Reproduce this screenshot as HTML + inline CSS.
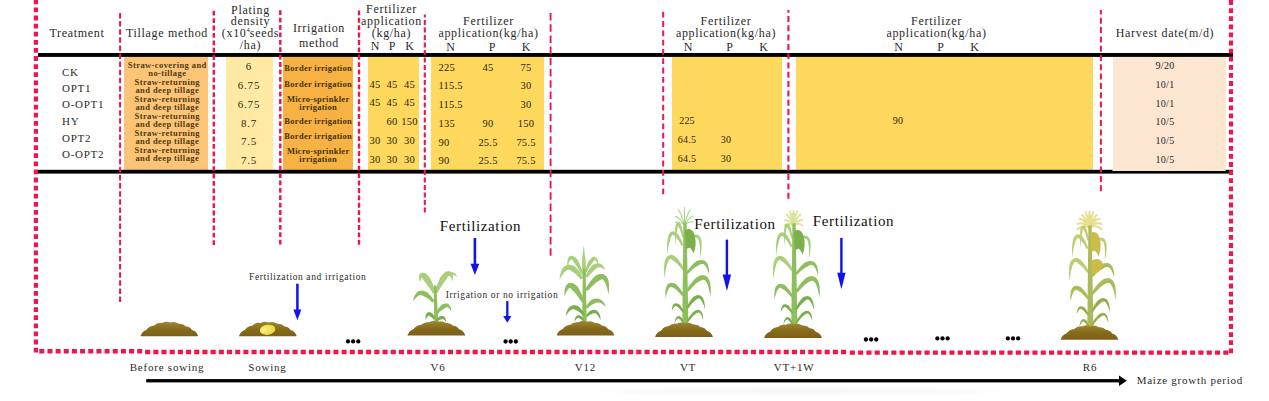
<!DOCTYPE html>
<html><head><meta charset="utf-8">
<style>
html,body{margin:0;padding:0;background:#fff;}
body{width:1269px;height:401px;position:relative;overflow:hidden;font-family:"Liberation Serif",serif;color:#2a2a2a;}
.t{position:absolute;white-space:nowrap;line-height:1;transform:translate(-50%,-50%);}
.l{position:absolute;white-space:nowrap;line-height:1;transform:translate(0,-50%);}
.b{position:absolute;}
svg{position:absolute;left:0;top:0;}
</style></head><body>

<div class="b" style="left:124px;top:57px;width:84px;height:113px;background:#fbc477"></div>
<div class="b" style="left:226.2px;top:57px;width:46.80000000000001px;height:113px;background:#ffe9a3"></div>
<div class="b" style="left:283px;top:57px;width:70px;height:113px;background:#f6b243"></div>
<div class="b" style="left:368px;top:57px;width:50.5px;height:113px;background:#ffd85e"></div>
<div class="b" style="left:431px;top:57px;width:112.5px;height:113px;background:#ffd85e"></div>
<div class="b" style="left:671.5px;top:57px;width:110.5px;height:113px;background:#ffd85e"></div>
<div class="b" style="left:796px;top:57px;width:297.20000000000005px;height:113px;background:#ffd85e"></div>
<div class="b" style="left:1112.5px;top:57px;width:113.09999999999991px;height:114px;background:#fde6d2"></div>
<div class="t" style="left:77px;top:33px;font-size:12px;letter-spacing:0.68px;">Treatment</div>
<div class="t" style="left:167px;top:33px;font-size:12px;letter-spacing:0.68px;">Tillage method</div>
<div class="t" style="left:250.5px;top:9.5px;font-size:12px;letter-spacing:0.68px;">Plating</div>
<div class="t" style="left:250.5px;top:21.2px;font-size:12px;letter-spacing:0.68px;">density</div>
<div class="t" style="left:250.5px;top:32.9px;font-size:12px;letter-spacing:0.68px;">(x10<sup style='font-size:6.5px;line-height:0;vertical-align:4.6px;letter-spacing:0'>4</sup>seeds</div>
<div class="t" style="left:250.5px;top:44.599999999999994px;font-size:12px;letter-spacing:0.68px;">/ha)</div>
<div class="t" style="left:319px;top:27.9px;font-size:12px;letter-spacing:0.68px;">Irrigation</div>
<div class="t" style="left:319px;top:42.5px;font-size:12px;letter-spacing:0.68px;">method</div>
<div class="t" style="left:391.5px;top:9.0px;font-size:12px;letter-spacing:0.68px;">Fertilizer</div>
<div class="t" style="left:391.5px;top:20.9px;font-size:12px;letter-spacing:0.68px;">application</div>
<div class="t" style="left:391.5px;top:32.8px;font-size:12px;letter-spacing:0.68px;">(kg/ha)</div>
<div class="t" style="left:375px;top:46.2px;font-size:12px;letter-spacing:0px;">N</div>
<div class="t" style="left:392px;top:46.2px;font-size:12px;letter-spacing:0px;">P</div>
<div class="t" style="left:409.5px;top:46.2px;font-size:12px;letter-spacing:0px;">K</div>
<div class="t" style="left:488.5px;top:20.8px;font-size:12px;letter-spacing:0.68px;">Fertilizer</div>
<div class="t" style="left:488.5px;top:33.3px;font-size:12px;letter-spacing:0.68px;">application(kg/ha)</div>
<div class="t" style="left:450.5px;top:46.5px;font-size:12px;letter-spacing:0px;">N</div>
<div class="t" style="left:492px;top:46.5px;font-size:12px;letter-spacing:0px;">P</div>
<div class="t" style="left:526px;top:46.5px;font-size:12px;letter-spacing:0px;">K</div>
<div class="t" style="left:726px;top:20.8px;font-size:12px;letter-spacing:0.68px;">Fertilizer</div>
<div class="t" style="left:726px;top:33.3px;font-size:12px;letter-spacing:0.68px;">application(kg/ha)</div>
<div class="t" style="left:688px;top:46.5px;font-size:12px;letter-spacing:0px;">N</div>
<div class="t" style="left:729.5px;top:46.5px;font-size:12px;letter-spacing:0px;">P</div>
<div class="t" style="left:763.5px;top:46.5px;font-size:12px;letter-spacing:0px;">K</div>
<div class="t" style="left:936.5px;top:20.8px;font-size:12px;letter-spacing:0.68px;">Fertilizer</div>
<div class="t" style="left:936.5px;top:33.3px;font-size:12px;letter-spacing:0.68px;">application(kg/ha)</div>
<div class="t" style="left:898.5px;top:46.5px;font-size:12px;letter-spacing:0px;">N</div>
<div class="t" style="left:940.5px;top:46.5px;font-size:12px;letter-spacing:0px;">P</div>
<div class="t" style="left:974.5px;top:46.5px;font-size:12px;letter-spacing:0px;">K</div>
<div class="t" style="left:1165px;top:33.3px;font-size:12px;letter-spacing:0.68px;">Harvest date(m/d)</div>
<div class="l" style="left:62px;top:72px;font-size:11px;letter-spacing:0.72px;">CK</div>
<div class="l" style="left:62px;top:87.7px;font-size:11px;letter-spacing:0.72px;">OPT1</div>
<div class="l" style="left:62px;top:104.1px;font-size:11px;letter-spacing:0.72px;">O-OPT1</div>
<div class="l" style="left:62px;top:120.9px;font-size:11px;letter-spacing:0.72px;">HY</div>
<div class="l" style="left:62px;top:137.8px;font-size:11px;letter-spacing:0.72px;">OPT2</div>
<div class="l" style="left:62px;top:153.7px;font-size:11px;letter-spacing:0.72px;">O-OPT2</div>
<div class="t" style="left:167.3px;top:64.5px;font-size:8.5px;letter-spacing:0.41px;font-weight:bold;color:#523a14;">Straw-covering and</div>
<div class="t" style="left:167.3px;top:73.0px;font-size:8.5px;letter-spacing:0.41px;font-weight:bold;color:#523a14;">no-tillage</div>
<div class="t" style="left:167.3px;top:81.5px;font-size:8.5px;letter-spacing:0.41px;font-weight:bold;color:#523a14;">Straw-returning</div>
<div class="t" style="left:167.3px;top:90.0px;font-size:8.5px;letter-spacing:0.41px;font-weight:bold;color:#523a14;">and deep tillage</div>
<div class="t" style="left:167.3px;top:98.5px;font-size:8.5px;letter-spacing:0.41px;font-weight:bold;color:#523a14;">Straw-returning</div>
<div class="t" style="left:167.3px;top:107.0px;font-size:8.5px;letter-spacing:0.41px;font-weight:bold;color:#523a14;">and deep tillage</div>
<div class="t" style="left:167.3px;top:115.5px;font-size:8.5px;letter-spacing:0.41px;font-weight:bold;color:#523a14;">Straw-returning</div>
<div class="t" style="left:167.3px;top:124.0px;font-size:8.5px;letter-spacing:0.41px;font-weight:bold;color:#523a14;">and deep tillage</div>
<div class="t" style="left:167.3px;top:132.5px;font-size:8.5px;letter-spacing:0.41px;font-weight:bold;color:#523a14;">Straw-returning</div>
<div class="t" style="left:167.3px;top:141.0px;font-size:8.5px;letter-spacing:0.41px;font-weight:bold;color:#523a14;">and deep tillage</div>
<div class="t" style="left:167.3px;top:149.5px;font-size:8.5px;letter-spacing:0.41px;font-weight:bold;color:#523a14;">Straw-returning</div>
<div class="t" style="left:167.3px;top:158.0px;font-size:8.5px;letter-spacing:0.41px;font-weight:bold;color:#523a14;">and deep tillage</div>
<div class="t" style="left:249px;top:65.6px;font-size:11px;letter-spacing:0.8px;color:#2e2a1a;">6</div>
<div class="t" style="left:249px;top:85.2px;font-size:11px;letter-spacing:0.8px;color:#2e2a1a;">6.75</div>
<div class="t" style="left:249px;top:104.4px;font-size:11px;letter-spacing:0.8px;color:#2e2a1a;">6.75</div>
<div class="t" style="left:249px;top:122.5px;font-size:11px;letter-spacing:0.8px;color:#2e2a1a;">8.7</div>
<div class="t" style="left:249px;top:141.2px;font-size:11px;letter-spacing:0.8px;color:#2e2a1a;">7.5</div>
<div class="t" style="left:249px;top:160.4px;font-size:11px;letter-spacing:0.8px;color:#2e2a1a;">7.5</div>
<div class="t" style="left:318.2px;top:68px;font-size:8.5px;letter-spacing:0.28px;font-weight:bold;color:#48320c;">Border irrigation</div>
<div class="t" style="left:318.2px;top:83.7px;font-size:8.5px;letter-spacing:0.28px;font-weight:bold;color:#48320c;">Border irrigation</div>
<div class="t" style="left:318.2px;top:98.8px;font-size:8.5px;letter-spacing:0.28px;font-weight:bold;color:#48320c;">Micro-sprinkler</div>
<div class="t" style="left:318.2px;top:107px;font-size:8.5px;letter-spacing:0.28px;font-weight:bold;color:#48320c;">irrigation</div>
<div class="t" style="left:318.2px;top:121px;font-size:8.5px;letter-spacing:0.28px;font-weight:bold;color:#48320c;">Border irrigation</div>
<div class="t" style="left:318.2px;top:136px;font-size:8.5px;letter-spacing:0.28px;font-weight:bold;color:#48320c;">Border irrigation</div>
<div class="t" style="left:318.2px;top:151.3px;font-size:8.5px;letter-spacing:0.28px;font-weight:bold;color:#48320c;">Micro-sprinkler</div>
<div class="t" style="left:318.2px;top:159.4px;font-size:8.5px;letter-spacing:0.28px;font-weight:bold;color:#48320c;">irrigation</div>
<div class="t" style="left:375px;top:84.7px;font-size:10.5px;letter-spacing:0.3px;color:#2a2412;">45</div>
<div class="t" style="left:392px;top:84.7px;font-size:10.5px;letter-spacing:0.3px;color:#2a2412;">45</div>
<div class="t" style="left:409.5px;top:84.7px;font-size:10.5px;letter-spacing:0.3px;color:#2a2412;">45</div>
<div class="t" style="left:375px;top:103.4px;font-size:10.5px;letter-spacing:0.3px;color:#2a2412;">45</div>
<div class="t" style="left:392px;top:103.4px;font-size:10.5px;letter-spacing:0.3px;color:#2a2412;">45</div>
<div class="t" style="left:409.5px;top:103.4px;font-size:10.5px;letter-spacing:0.3px;color:#2a2412;">45</div>
<div class="t" style="left:392px;top:122.0px;font-size:10.5px;letter-spacing:0.3px;color:#2a2412;">60</div>
<div class="t" style="left:409.5px;top:122.0px;font-size:10.5px;letter-spacing:0.3px;color:#2a2412;">150</div>
<div class="t" style="left:375px;top:141.2px;font-size:10.5px;letter-spacing:0.3px;color:#2a2412;">30</div>
<div class="t" style="left:392px;top:141.2px;font-size:10.5px;letter-spacing:0.3px;color:#2a2412;">30</div>
<div class="t" style="left:409.5px;top:141.2px;font-size:10.5px;letter-spacing:0.3px;color:#2a2412;">30</div>
<div class="t" style="left:375px;top:159.9px;font-size:10.5px;letter-spacing:0.3px;color:#2a2412;">30</div>
<div class="t" style="left:392px;top:159.9px;font-size:10.5px;letter-spacing:0.3px;color:#2a2412;">30</div>
<div class="t" style="left:409.5px;top:159.9px;font-size:10.5px;letter-spacing:0.3px;color:#2a2412;">30</div>
<div class="l" style="left:438.5px;top:67.5px;font-size:10.5px;letter-spacing:0.2px;color:#2a2412;">225</div>
<div class="t" style="left:488px;top:67.5px;font-size:10.5px;letter-spacing:0.2px;color:#2a2412;">45</div>
<div class="t" style="left:526px;top:67.5px;font-size:10.5px;letter-spacing:0.2px;color:#2a2412;">75</div>
<div class="l" style="left:438.5px;top:86.2px;font-size:10.5px;letter-spacing:0.2px;color:#2a2412;">115.5</div>
<div class="t" style="left:526px;top:86.2px;font-size:10.5px;letter-spacing:0.2px;color:#2a2412;">30</div>
<div class="l" style="left:438.5px;top:104.9px;font-size:10.5px;letter-spacing:0.2px;color:#2a2412;">115.5</div>
<div class="t" style="left:526px;top:104.9px;font-size:10.5px;letter-spacing:0.2px;color:#2a2412;">30</div>
<div class="l" style="left:438.5px;top:123.5px;font-size:10.5px;letter-spacing:0.2px;color:#2a2412;">135</div>
<div class="t" style="left:488px;top:123.5px;font-size:10.5px;letter-spacing:0.2px;color:#2a2412;">90</div>
<div class="t" style="left:526px;top:123.5px;font-size:10.5px;letter-spacing:0.2px;color:#2a2412;">150</div>
<div class="l" style="left:438.5px;top:142.7px;font-size:10.5px;letter-spacing:0.2px;color:#2a2412;">90</div>
<div class="t" style="left:488px;top:142.7px;font-size:10.5px;letter-spacing:0.2px;color:#2a2412;">25.5</div>
<div class="t" style="left:526px;top:142.7px;font-size:10.5px;letter-spacing:0.2px;color:#2a2412;">75.5</div>
<div class="l" style="left:438.5px;top:161.4px;font-size:10.5px;letter-spacing:0.2px;color:#2a2412;">90</div>
<div class="t" style="left:488px;top:161.4px;font-size:10.5px;letter-spacing:0.2px;color:#2a2412;">25.5</div>
<div class="t" style="left:526px;top:161.4px;font-size:10.5px;letter-spacing:0.2px;color:#2a2412;">75.5</div>
<div class="t" style="left:687px;top:120.8px;font-size:10px;letter-spacing:0.2px;color:#2a2412;">225</div>
<div class="t" style="left:687px;top:140px;font-size:10px;letter-spacing:0.2px;color:#2a2412;">64.5</div>
<div class="t" style="left:726px;top:140px;font-size:10px;letter-spacing:0.2px;color:#2a2412;">30</div>
<div class="t" style="left:687px;top:158.6px;font-size:10px;letter-spacing:0.2px;color:#2a2412;">64.5</div>
<div class="t" style="left:726px;top:158.6px;font-size:10px;letter-spacing:0.2px;color:#2a2412;">30</div>
<div class="t" style="left:898px;top:120.8px;font-size:10px;letter-spacing:0.2px;color:#2a2412;">90</div>
<div class="t" style="left:1165px;top:65.8px;font-size:10px;letter-spacing:0.3px;color:#262626;">9/20</div>
<div class="t" style="left:1165px;top:84.8px;font-size:10px;letter-spacing:0.3px;color:#262626;">10/1</div>
<div class="t" style="left:1165px;top:103.5px;font-size:10px;letter-spacing:0.3px;color:#262626;">10/1</div>
<div class="t" style="left:1165px;top:122.2px;font-size:10px;letter-spacing:0.3px;color:#262626;">10/5</div>
<div class="t" style="left:1165px;top:140.8px;font-size:10px;letter-spacing:0.3px;color:#262626;">10/5</div>
<div class="t" style="left:1165px;top:159.8px;font-size:10px;letter-spacing:0.3px;color:#262626;">10/5</div>
<div class="t" style="left:167px;top:366.8px;font-size:11px;letter-spacing:0.78px;">Before sowing</div>
<div class="t" style="left:267.5px;top:366.8px;font-size:11px;letter-spacing:0.78px;">Sowing</div>
<div class="t" style="left:438px;top:366.8px;font-size:11px;letter-spacing:0.78px;">V6</div>
<div class="t" style="left:585.5px;top:366.8px;font-size:11px;letter-spacing:0.78px;">V12</div>
<div class="t" style="left:688px;top:366.8px;font-size:11px;letter-spacing:0.78px;">VT</div>
<div class="t" style="left:794px;top:366.8px;font-size:11px;letter-spacing:0.78px;">VT+1W</div>
<div class="t" style="left:1090px;top:366.8px;font-size:11px;letter-spacing:0.78px;">R6</div>
<div class="l" style="left:1136.7px;top:379.9px;font-size:11px;letter-spacing:0.74px;">Maize growth period</div>
<div class="t" style="left:480.5px;top:225.6px;font-size:15px;letter-spacing:0.62px;color:#111;">Fertilization</div>
<div class="t" style="left:735px;top:223.6px;font-size:15px;letter-spacing:0.62px;color:#111;">Fertilization</div>
<div class="t" style="left:853.5px;top:221px;font-size:15px;letter-spacing:0.62px;color:#111;">Fertilization</div>
<div class="t" style="left:307.7px;top:278.1px;font-size:9.5px;letter-spacing:0.61px;">Fertilization and irrigation</div>
<div class="t" style="left:502px;top:295.8px;font-size:9.5px;letter-spacing:0.62px;">Irrigation or no irrigation</div>
<svg width="1269" height="401" viewBox="0 0 1269 401">
<rect x="38" y="53" width="1195" height="3.9" fill="#000"/>
<rect x="38" y="169.8" width="1195" height="3.8" fill="#000"/>
<rect x="1112.5" y="169" width="113.1" height="2" fill="#fde6d2"/>
<line x1="120.1" y1="302" x2="120.1" y2="12.6" stroke="#eb174f" stroke-width="2.0" stroke-dasharray="5.5 2.6"/>
<line x1="213.8" y1="245" x2="213.8" y2="10.4" stroke="#eb174f" stroke-width="2.45" stroke-dasharray="4.8 2.6"/>
<line x1="280.3" y1="244.5" x2="280.3" y2="10" stroke="#eb174f" stroke-width="2.45" stroke-dasharray="4.8 2.6"/>
<line x1="359" y1="244.7" x2="359" y2="9.6" stroke="#eb174f" stroke-width="2.4" stroke-dasharray="4.9 2.5"/>
<line x1="424.8" y1="212.5" x2="424.8" y2="14.4" stroke="#eb174f" stroke-width="2.1" stroke-dasharray="5 2.5"/>
<line x1="550.6" y1="255.7" x2="550.6" y2="11.2" stroke="#eb174f" stroke-width="1.9" stroke-dasharray="7.5 3.7"/>
<line x1="663.2" y1="194.3" x2="663.2" y2="10.5" stroke="#eb174f" stroke-width="2.0" stroke-dasharray="5.8 3.5"/>
<line x1="788.4" y1="198.7" x2="788.4" y2="10" stroke="#eb174f" stroke-width="2.1" stroke-dasharray="6 3.3"/>
<line x1="1100.9" y1="191.2" x2="1100.9" y2="10" stroke="#eb174f" stroke-width="2.0" stroke-dasharray="6 3.3"/>
<path d="M35.9 352.5 V-2" fill="none" stroke="#eb174f" stroke-width="4.2" stroke-dasharray="4.8 3.3"/>
<path d="M1231 353.2 V-2" fill="none" stroke="#eb174f" stroke-width="4.2" stroke-dasharray="4.8 3.3"/>
<path d="M39.3 351.3 H144.4" fill="none" stroke="#eb174f" stroke-width="4.5" stroke-dasharray="5 3.16"/>
<path d="M145.1 352 H849" fill="none" stroke="#eb174f" stroke-width="4.3" stroke-dasharray="5.1 3.087"/>
<path d="M849.8 352.7 H1230.5" fill="none" stroke="#eb174f" stroke-width="4.3" stroke-dasharray="5.1 3.2"/>
<rect x="146.2" y="379.1" width="975" height="3.3" fill="#000"/>
<path d="M1119 375.6 L1126.8 380.85 L1119 386.1 Z" fill="#000"/>
<rect x="473.59999999999997" y="238" width="2.6" height="26.69999999999999" fill="#1212ee"/>
<path d="M470.54999999999995 263.7 L479.25 263.7 L474.9 274.9 Z" fill="#1212ee"/>
<rect x="296.15" y="283.7" width="2.5" height="26.899999999999977" fill="#1212ee"/>
<path d="M293.4 309.59999999999997 L301.4 309.59999999999997 L297.4 320.2 Z" fill="#1212ee"/>
<rect x="506.15000000000003" y="301.1" width="2.3" height="15.899999999999977" fill="#1212ee"/>
<path d="M503.2 316.0 L511.40000000000003 316.0 L507.3 322.8 Z" fill="#1212ee"/>
<rect x="725.6999999999999" y="239.6" width="2.4" height="35.900000000000006" fill="#1212ee"/>
<path d="M722.6999999999999 274.5 L731.1 274.5 L726.9 291.1 Z" fill="#1212ee"/>
<rect x="840.1999999999999" y="237.9" width="2.4" height="35.900000000000006" fill="#1212ee"/>
<path d="M837.1999999999999 272.8 L845.6 272.8 L841.4 289.3 Z" fill="#1212ee"/>
<defs><filter id="bl" x="-10%" y="-200%" width="120%" height="500%"><feGaussianBlur stdDeviation="2"/></filter></defs><ellipse cx="800" cy="391" rx="200" ry="2.2" fill="#000" opacity="0.045" filter="url(#bl)"/>
<circle cx="347.95000000000005" cy="341.4" r="2.15" fill="#000"/>
<circle cx="353.1" cy="341.4" r="2.15" fill="#000"/>
<circle cx="358.25" cy="341.4" r="2.15" fill="#000"/>
<circle cx="505.55" cy="341.5" r="2.15" fill="#000"/>
<circle cx="510.7" cy="341.5" r="2.15" fill="#000"/>
<circle cx="515.85" cy="341.5" r="2.15" fill="#000"/>
<circle cx="865.95" cy="339.5" r="2.15" fill="#000"/>
<circle cx="871.1" cy="339.5" r="2.15" fill="#000"/>
<circle cx="876.25" cy="339.5" r="2.15" fill="#000"/>
<circle cx="937.35" cy="338.4" r="2.15" fill="#000"/>
<circle cx="942.5" cy="338.4" r="2.15" fill="#000"/>
<circle cx="947.65" cy="338.4" r="2.15" fill="#000"/>
<circle cx="1007.85" cy="338.4" r="2.15" fill="#000"/>
<circle cx="1013" cy="338.4" r="2.15" fill="#000"/>
<circle cx="1018.15" cy="338.4" r="2.15" fill="#000"/>
<defs><linearGradient id="sg" x1="0" y1="0" x2="0" y2="1"><stop offset="0" stop-color="#9f8631"/><stop offset="0.5" stop-color="#866b1d"/><stop offset="1" stop-color="#7b6016"/></linearGradient><radialGradient id="seed" cx="0.3" cy="0.45" r="0.8"><stop offset="0" stop-color="#fbf08a"/><stop offset="1" stop-color="#ecd21f"/></radialGradient></defs>
<path d="M435.9 292.2L433.7 286.5L431.8 281.8L429.9 277.9L427.8 275.2L425.6 273.3L422.8 272.4L419.9 273.7L419.0 276.1L419.1 278.8L419.9 282.1L419.9 282.1L421.2 279.0L422.3 277.3L423.0 277.1L422.1 277.8L422.0 278.1L422.9 279.3L424.5 281.6L426.9 284.6L429.7 288.6L432.9 293.6Z" fill="#a9cf7c"/>
<path d="M437.1 293.5L440.3 287.9L443.2 283.5L445.8 280.1L447.5 277.6L448.7 276.3L448.9 275.8L448.7 275.5L449.7 275.9L451.1 277.9L452.6 281.2L452.6 281.2L452.9 277.5L452.6 274.5L451.3 272.1L448.5 270.9L445.5 271.7L443.1 273.8L440.7 276.7L438.7 280.9L436.6 286.1L434.2 292.3Z" fill="#a9cf7c"/>
<path d="M447.4 275.5L448.8 275.1L450.0 274.9L451.1 274.8L452.0 274.7L452.8 274.8L453.5 274.9L454.3 275.1L455.1 275.5L455.9 276.2L456.9 277.0L456.9 277.0L456.6 275.7L456.1 274.6L455.4 273.6L454.4 272.9L453.3 272.4L452.1 272.2L450.7 272.2L449.4 272.7L448.1 273.4L446.8 274.3Z" fill="#a9cf7c"/>
<path d="M434.5 300.8L432.0 297.3L429.5 294.4L426.9 292.1L424.1 290.9L421.2 290.6L418.5 291.3L416.4 292.9L414.8 295.2L413.7 298.1L413.2 301.6L413.2 301.6L415.1 298.8L417.0 296.8L418.6 295.6L420.0 295.2L421.2 295.2L422.6 295.5L424.4 296.4L426.7 297.7L429.5 299.7L432.5 302.4Z" fill="#8fbe5e"/>
<path d="M434.2 322.6 L438.4 322.6 L436.3 285.5 L433.7 285.5 Z" fill="#8fbe5e"/>
<path d="M437.0 315.0L439.5 312.3L441.8 310.3L443.7 309.0L445.1 307.9L446.0 307.4L446.7 307.2L447.4 307.2L448.4 307.8L449.7 309.1L451.1 311.1L451.1 311.1L451.0 308.5L450.4 306.4L449.2 304.7L447.4 303.6L445.2 303.4L443.0 304.1L440.9 305.5L439.0 307.7L437.1 310.4L435.1 313.7Z" fill="#8fbe5e"/>
<path d="M435.4 318.2L434.2 316.1L433.0 314.3L431.8 312.9L430.2 312.2L428.4 312.1L426.9 312.9L425.9 314.3L425.5 315.9L425.4 317.8L425.7 320.1L425.7 320.1L426.6 318.1L427.5 316.6L428.3 315.8L428.8 315.6L428.9 315.7L429.0 315.8L429.6 316.2L430.7 316.7L432.1 317.8L433.8 319.4Z" fill="#7aad4c"/>
<path d="M437.1 321.5L438.7 320.5L440.0 319.8L441.1 319.5L441.8 319.2L442.2 319.0L442.7 319.0L443.2 319.2L444.0 319.8L444.9 320.8L445.8 322.2L445.8 322.2L445.9 320.4L445.6 318.9L445.0 317.6L444.0 316.6L442.7 316.0L441.1 315.9L439.7 316.3L438.4 317.4L437.1 318.7L435.9 320.3Z" fill="#7aad4c"/>
<path d="M582.1 275.3 L582.1 259.6 L582.9 251.8 L583.7 245.8 L584.5 251.8 L585.5 259.6 L586.3 275.3 Z" fill="#a9cf7c"/>
<path d="M583.2 273.0L581.2 267.7L579.4 263.3L577.6 259.8L575.6 257.4L573.3 255.9L570.6 255.8L568.6 257.3L567.7 259.7L567.2 262.8L567.2 266.7L567.2 266.7L568.6 263.1L569.9 260.6L571.0 259.4L571.5 259.4L571.6 259.6L572.5 260.5L574.0 262.4L576.0 265.2L578.4 269.0L581.1 273.9Z" fill="#a9cf7c"/>
<path d="M583.4 277.9L580.6 273.2L577.9 269.4L575.1 266.5L571.8 264.9L568.4 264.6L565.2 265.7L562.8 268.0L561.2 271.2L560.0 275.2L559.4 280.0L559.4 280.0L561.7 275.8L563.9 272.7L565.8 270.8L567.5 269.9L568.7 269.8L570.0 270.2L571.8 271.3L574.4 272.9L577.5 275.7L580.9 279.5Z" fill="#a9cf7c"/>
<path d="M586.5 272.3L588.6 268.4L590.5 265.2L592.2 262.9L593.5 261.2L594.3 260.4L594.6 260.1L594.8 259.9L595.7 260.4L596.8 261.9L598.1 264.3L598.1 264.3L598.0 261.5L597.5 259.3L596.4 257.7L594.5 256.8L592.4 257.3L590.6 258.7L589.0 260.7L587.6 263.6L586.1 267.2L584.6 271.5Z" fill="#a9cf7c"/>
<path d="M587.4 277.8L590.0 274.5L592.4 271.9L594.6 270.1L596.2 268.6L597.5 267.8L598.6 267.3L599.7 267.2L601.1 267.5L602.8 268.6L604.9 270.3L604.9 270.3L604.1 267.6L602.8 265.5L600.9 263.9L598.5 263.2L596.0 263.5L593.5 264.6L591.1 266.5L589.1 269.2L587.2 272.6L585.2 276.5Z" fill="#a9cf7c"/>
<path d="M587.6 291.1L592.0 286.3L595.8 282.8L599.0 280.7L601.0 279.6L602.0 279.3L602.8 279.5L604.2 280.9L605.8 284.0L607.2 288.6L608.5 294.6L608.5 294.6L609.1 288.4L608.9 283.3L608.1 279.1L606.2 275.9L603.1 273.9L599.2 274.0L595.5 275.7L592.2 279.1L588.8 283.6L585.0 289.3Z" fill="#8fbe5e"/>
<path d="M584.6 301.3L582.2 295.5L579.9 290.7L577.6 286.8L574.9 284.3L571.9 282.8L568.6 283.1L566.2 285.2L565.0 288.1L564.4 291.8L564.3 296.5L564.3 296.5L566.2 292.3L567.9 289.5L569.4 288.0L570.1 287.9L570.4 288.1L571.3 288.9L573.0 290.7L575.6 293.5L578.5 297.5L581.8 302.6Z" fill="#8fbe5e"/>
<path d="M582.1 324.2 L586.8 324.2 L585.5 268.8 L582.9 268.8 Z" fill="#8fbe5e"/>
<path d="M587.2 308.7L589.6 306.4L591.9 304.7L593.9 303.7L595.5 302.8L596.9 302.4L598.3 302.4L599.8 302.7L601.6 303.5L603.6 304.9L605.9 306.9L605.9 306.9L604.7 304.0L603.2 301.7L601.3 299.9L599.1 298.8L596.7 298.4L594.1 298.7L591.6 299.8L589.4 301.8L587.4 304.3L585.4 307.3Z" fill="#8fbe5e"/>
<path d="M584.1 313.6L582.1 310.5L580.2 308.1L578.0 306.1L575.6 305.2L573.0 305.2L570.7 306.0L568.8 307.7L567.4 309.9L566.3 312.7L565.7 316.1L565.7 316.1L567.6 313.3L569.4 311.3L571.0 310.0L572.3 309.3L573.4 309.2L574.5 309.4L575.8 310.1L577.7 311.0L579.9 312.6L582.2 314.9Z" fill="#7aad4c"/>
<path d="M587.0 317.0L589.2 315.3L591.1 314.2L592.7 313.6L593.8 313.3L594.8 313.3L595.7 313.5L596.8 314.3L598.0 315.7L599.3 317.7L600.7 320.3L600.7 320.3L600.4 317.3L599.8 314.8L598.8 312.7L597.4 311.1L595.6 310.0L593.5 309.7L591.4 310.2L589.4 311.5L587.5 313.4L585.6 315.7Z" fill="#7aad4c"/>
<path d="M583.8 319.8L582.7 318.1L581.7 316.8L580.5 315.7L579.1 315.3L577.7 315.3L576.5 315.9L575.6 317.0L575.0 318.3L574.6 319.9L574.5 321.8L574.5 321.8L575.5 320.2L576.4 319.0L577.1 318.3L577.8 317.9L578.2 317.9L578.5 318.0L579.1 318.3L580.1 318.7L581.2 319.5L582.6 320.7Z" fill="#7aad4c"/>
<path d="M684.5 224.6 Q684.5 211.9 684.5 207.6" stroke="#b4d596" stroke-width="1.2" fill="none" stroke-linecap="round"/>
<path d="M684.5 224.6 Q681.2 213.5 678.5 209.8" stroke="#b4d596" stroke-width="1.2" fill="none" stroke-linecap="round"/>
<path d="M684.5 224.6 Q687.4 213.7 689.8 210.1" stroke="#b4d596" stroke-width="1.2" fill="none" stroke-linecap="round"/>
<path d="M684.5 224.6 Q679.4 217.7 675.3 216.4" stroke="#b4d596" stroke-width="1.2" fill="none" stroke-linecap="round"/>
<path d="M684.5 224.6 Q689.2 217.4 693.2 216.0" stroke="#b4d596" stroke-width="1.2" fill="none" stroke-linecap="round"/>
<path d="M684.5 224.6 Q679.5 221.4 675.4 222.4" stroke="#b4d596" stroke-width="1.2" fill="none" stroke-linecap="round"/>
<path d="M684.5 224.6 Q689.3 221.1 693.3 221.9" stroke="#b4d596" stroke-width="1.2" fill="none" stroke-linecap="round"/>
<path d="M684.1 237.5L682.9 231.8L681.9 227.4L680.8 224.4L679.3 222.6L676.6 222.9L675.6 225.0L675.2 228.2L675.0 232.6L675.1 238.4L675.4 245.6L675.4 245.6L676.0 238.4L676.7 232.7L677.4 228.5L678.1 225.8L678.6 224.9L677.6 225.1L678.1 225.9L679.4 228.3L680.9 232.3L682.6 237.8Z" fill="#a9cf7c"/>
<path d="M683.5 245.2L681.1 239.8L678.9 235.6L676.7 232.7L673.9 231.2L670.9 231.8L669.0 234.1L667.9 237.5L667.2 242.1L666.9 247.9L667.1 255.0L667.1 255.0L668.1 248.0L669.3 242.4L670.5 238.3L671.7 235.7L672.7 234.8L673.0 234.9L674.1 235.6L676.2 237.6L678.8 241.1L681.7 246.0Z" fill="#a9cf7c"/>
<path d="M687.5 241.2L690.9 238.9L693.6 237.7L695.6 237.5L696.8 237.7L697.8 238.5L698.8 240.3L699.5 243.3L699.9 247.4L699.9 252.5L699.7 258.6L699.7 258.6L700.9 252.6L701.6 247.4L701.7 243.1L701.2 239.6L700.1 236.8L698.1 235.0L695.4 234.4L692.6 235.3L689.7 237.2L686.5 239.9Z" fill="#a9cf7c"/>
<path d="M684.3 268.9L681.0 263.4L678.0 259.2L675.0 256.2L671.7 254.8L668.4 255.4L666.0 257.7L664.7 261.2L664.1 265.8L664.0 271.5L664.5 278.6L664.5 278.6L665.4 271.6L666.5 266.2L667.7 262.2L669.1 259.8L670.1 259.0L670.9 259.1L672.5 259.9L675.2 261.9L678.6 265.3L682.4 270.1Z" fill="#a9cf7c"/>
<path d="M687.9 273.9L691.8 270.0L695.3 267.2L698.3 265.4L700.5 264.3L702.1 263.9L703.3 264.1L704.7 265.0L706.2 267.1L707.7 270.3L709.1 274.6L709.1 274.6L709.1 270.0L708.4 266.2L707.2 263.2L705.2 260.9L702.3 259.9L699.2 260.2L695.9 261.6L692.8 264.3L689.6 267.9L686.1 272.4Z" fill="#8fbe5e"/>
<path d="M682.3 325.2 L688.4 325.2 L686.6 222.4 L683.4 222.4 Z" fill="#8fbe5e"/>
<path d="M684.8 230.4 Q692.1 226.1 695.0 236.2 Q696.8 246.3 693.5 253.6 Q689.9 244.2 686.3 250.0 Z" fill="#7db04c"/>
<path d="M684.3 294.9L681.4 290.5L678.7 286.9L676.1 284.3L673.3 282.9L670.4 282.7L667.9 284.1L666.4 286.5L665.6 289.7L665.3 293.6L665.6 298.5L665.6 298.5L666.7 293.8L667.9 290.3L669.2 288.0L670.3 286.9L671.0 286.7L671.9 287.0L673.6 287.9L676.0 289.6L679.0 292.4L682.4 296.2Z" fill="#8fbe5e"/>
<path d="M688.0 292.0L692.6 287.0L696.5 283.3L699.8 281.1L702.1 279.9L703.5 279.7L704.7 280.2L706.3 282.0L707.9 285.3L709.3 290.3L710.5 296.7L710.5 296.7L710.9 290.1L710.5 284.7L709.5 280.4L707.6 277.2L704.5 275.2L700.8 275.2L697.1 276.9L693.6 280.2L689.9 284.7L685.9 290.5Z" fill="#8fbe5e"/>
<path d="M687.9 309.1L690.8 305.0L693.5 301.9L695.8 300.0L697.4 298.8L698.5 298.4L699.4 298.6L700.7 299.5L702.1 301.7L703.6 305.0L705.1 309.3L705.1 309.3L704.8 304.7L704.1 300.9L702.9 298.0L701.2 295.9L698.6 294.9L695.9 295.4L693.3 297.0L691.0 299.8L688.6 303.5L686.1 308.1Z" fill="#7aad4c"/>
<path d="M684.1 311.8L682.6 309.0L681.1 306.6L679.7 304.8L678.0 303.7L676.3 303.2L674.5 303.6L673.2 304.8L672.4 306.5L672.0 308.5L671.8 311.1L671.8 311.1L672.9 308.8L673.9 307.2L674.9 306.3L675.5 306.0L676.0 306.0L676.6 306.3L677.6 307.1L679.1 308.3L680.8 310.2L682.7 312.6Z" fill="#7aad4c"/>
<path d="M687.7 322.4L690.5 318.9L693.0 316.1L695.2 314.3L696.8 313.0L698.0 312.5L698.9 312.5L699.8 313.1L701.0 314.5L702.2 316.9L703.3 320.2L703.3 320.2L703.1 316.7L702.5 313.8L701.5 311.7L699.9 310.2L697.7 309.7L695.4 310.4L693.1 311.9L691.0 314.4L688.7 317.6L686.3 321.6Z" fill="#7aad4c"/>
<path d="M684.0 322.8L683.0 320.5L682.1 318.6L681.1 317.2L679.7 316.3L678.2 316.1L676.8 316.7L675.9 317.9L675.2 319.4L674.7 321.4L674.3 323.8L674.3 323.8L675.4 321.6L676.4 320.0L677.3 319.0L678.0 318.5L678.4 318.4L678.7 318.6L679.3 319.1L680.3 319.9L681.5 321.4L682.8 323.4Z" fill="#7aad4c"/>
<path d="M793.5 225.6 Q793.5 214.4 793.5 210.6" stroke="#dde394" stroke-width="1.7" fill="none" stroke-linecap="round"/>
<path d="M793.5 225.6 Q791.3 214.7 789.6 211.1" stroke="#dde394" stroke-width="1.7" fill="none" stroke-linecap="round"/>
<path d="M793.5 225.6 Q795.6 214.7 797.3 211.1" stroke="#dde394" stroke-width="1.7" fill="none" stroke-linecap="round"/>
<path d="M793.5 225.6 Q789.6 216.5 786.5 214.5" stroke="#dde394" stroke-width="1.7" fill="none" stroke-linecap="round"/>
<path d="M793.5 225.6 Q797.3 216.5 800.5 214.5" stroke="#dde394" stroke-width="1.7" fill="none" stroke-linecap="round"/>
<path d="M793.5 225.6 Q788.6 219.6 784.5 220.1" stroke="#dde394" stroke-width="1.7" fill="none" stroke-linecap="round"/>
<path d="M793.5 225.6 Q798.4 219.6 802.4 220.1" stroke="#dde394" stroke-width="1.7" fill="none" stroke-linecap="round"/>
<path d="M793.5 225.6 Q788.5 222.4 784.4 225.4" stroke="#dde394" stroke-width="1.7" fill="none" stroke-linecap="round"/>
<path d="M793.5 225.6 Q798.4 222.4 802.5 225.4" stroke="#dde394" stroke-width="1.7" fill="none" stroke-linecap="round"/>
<path d="M793.5 225.6 Q792.7 216.7 792.0 213.7" stroke="#dde394" stroke-width="1.7" fill="none" stroke-linecap="round"/>
<path d="M793.5 225.6 Q794.3 216.7 794.9 213.7" stroke="#dde394" stroke-width="1.7" fill="none" stroke-linecap="round"/>
<path d="M793.1 238.5L791.9 232.8L790.9 228.4L789.8 225.4L788.3 223.6L785.6 223.9L784.6 226.0L784.2 229.2L784.0 233.6L784.1 239.4L784.4 246.6L784.4 246.6L785.0 239.4L785.7 233.7L786.4 229.5L787.1 226.8L787.6 225.9L786.6 226.1L787.1 226.9L788.4 229.3L789.9 233.3L791.6 238.8Z" fill="#a9cf7c"/>
<path d="M792.5 246.2L790.1 240.8L787.9 236.6L785.7 233.7L782.9 232.2L779.9 232.8L778.0 235.1L776.9 238.5L776.2 243.1L775.9 248.9L776.1 256.0L776.1 256.0L777.1 249.0L778.3 243.4L779.5 239.3L780.7 236.7L781.7 235.8L782.0 235.9L783.1 236.6L785.2 238.6L787.8 242.1L790.7 247.0Z" fill="#a9cf7c"/>
<path d="M796.5 242.2L799.9 239.9L802.6 238.7L804.6 238.5L805.8 238.7L806.8 239.5L807.8 241.3L808.5 244.3L808.9 248.4L808.9 253.5L808.7 259.6L808.7 259.6L809.9 253.6L810.6 248.4L810.7 244.1L810.2 240.6L809.1 237.8L807.1 236.0L804.4 235.4L801.6 236.3L798.7 238.2L795.5 240.9Z" fill="#a9cf7c"/>
<path d="M793.3 269.9L790.0 264.4L787.0 260.2L784.0 257.2L780.7 255.8L777.4 256.4L775.0 258.7L773.7 262.2L773.1 266.8L773.0 272.5L773.5 279.6L773.5 279.6L774.4 272.6L775.5 267.2L776.7 263.2L778.1 260.8L779.1 260.0L779.9 260.1L781.5 260.9L784.2 262.9L787.6 266.3L791.4 271.1Z" fill="#a9cf7c"/>
<path d="M796.9 274.9L800.8 271.0L804.3 268.2L807.3 266.4L809.5 265.3L811.1 264.9L812.3 265.1L813.7 266.0L815.2 268.1L816.7 271.3L818.1 275.6L818.1 275.6L818.1 271.0L817.4 267.2L816.2 264.2L814.2 261.9L811.3 260.9L808.2 261.2L804.9 262.6L801.8 265.3L798.6 268.9L795.1 273.4Z" fill="#8fbe5e"/>
<path d="M791.3 326.2 L797.4 326.2 L795.6 223.4 L792.4 223.4 Z" fill="#8fbe5e"/>
<path d="M793.8 231.4 Q801.1 227.1 804.0 237.2 Q805.8 247.3 802.5 254.6 Q798.9 245.2 795.3 251.0 Z" fill="#7db04c"/>
<path d="M793.3 295.9L790.4 291.5L787.7 287.9L785.1 285.3L782.3 283.9L779.4 283.7L776.9 285.1L775.4 287.5L774.6 290.7L774.3 294.6L774.6 299.5L774.6 299.5L775.7 294.8L776.9 291.3L778.2 289.0L779.3 287.9L780.0 287.7L780.9 288.0L782.6 288.9L785.0 290.6L788.0 293.4L791.4 297.2Z" fill="#8fbe5e"/>
<path d="M797.0 293.0L801.6 288.0L805.5 284.3L808.8 282.1L811.1 280.9L812.5 280.7L813.7 281.2L815.3 283.0L816.9 286.3L818.3 291.3L819.5 297.7L819.5 297.7L819.9 291.1L819.5 285.7L818.5 281.4L816.6 278.2L813.5 276.2L809.8 276.2L806.1 277.9L802.6 281.2L798.9 285.7L794.9 291.5Z" fill="#8fbe5e"/>
<path d="M796.9 310.1L799.8 306.0L802.5 302.9L804.8 301.0L806.4 299.8L807.5 299.4L808.4 299.6L809.7 300.5L811.1 302.7L812.6 306.0L814.1 310.3L814.1 310.3L813.8 305.7L813.1 301.9L811.9 299.0L810.2 296.9L807.6 295.9L804.9 296.4L802.3 298.0L800.0 300.8L797.6 304.5L795.1 309.1Z" fill="#7aad4c"/>
<path d="M793.1 312.8L791.6 310.0L790.1 307.6L788.7 305.8L787.0 304.7L785.3 304.2L783.5 304.6L782.2 305.8L781.4 307.5L781.0 309.5L780.8 312.1L780.8 312.1L781.9 309.8L782.9 308.2L783.9 307.3L784.5 307.0L785.0 307.0L785.6 307.3L786.6 308.1L788.1 309.3L789.8 311.2L791.7 313.6Z" fill="#7aad4c"/>
<path d="M796.7 323.4L799.5 319.9L802.0 317.1L804.2 315.3L805.8 314.0L807.0 313.5L807.9 313.5L808.8 314.1L810.0 315.5L811.2 317.9L812.3 321.2L812.3 321.2L812.1 317.7L811.5 314.8L810.5 312.7L808.9 311.2L806.7 310.7L804.4 311.4L802.1 312.9L800.0 315.4L797.7 318.6L795.3 322.6Z" fill="#7aad4c"/>
<path d="M793.0 323.8L792.0 321.5L791.1 319.6L790.1 318.2L788.7 317.3L787.2 317.1L785.8 317.7L784.9 318.9L784.2 320.4L783.7 322.4L783.3 324.8L783.3 324.8L784.4 322.6L785.4 321.0L786.3 320.0L787.0 319.5L787.4 319.4L787.7 319.6L788.3 320.1L789.3 320.9L790.5 322.4L791.8 324.4Z" fill="#7aad4c"/>
<path d="M1089.5 227.6 Q1089.5 215.6 1089.5 211.6" stroke="#e6df8e" stroke-width="1.9" fill="none" stroke-linecap="round"/>
<path d="M1089.5 227.6 Q1087.3 216.0 1085.6 212.1" stroke="#e6df8e" stroke-width="1.9" fill="none" stroke-linecap="round"/>
<path d="M1089.5 227.6 Q1091.6 216.0 1093.3 212.1" stroke="#e6df8e" stroke-width="1.9" fill="none" stroke-linecap="round"/>
<path d="M1089.5 227.6 Q1085.5 217.4 1082.2 214.9" stroke="#e6df8e" stroke-width="1.9" fill="none" stroke-linecap="round"/>
<path d="M1089.5 227.6 Q1093.5 217.4 1096.7 214.9" stroke="#e6df8e" stroke-width="1.9" fill="none" stroke-linecap="round"/>
<path d="M1089.5 227.6 Q1083.9 219.3 1079.4 219.0" stroke="#e6df8e" stroke-width="1.9" fill="none" stroke-linecap="round"/>
<path d="M1089.5 227.6 Q1095.0 219.3 1099.5 219.0" stroke="#e6df8e" stroke-width="1.9" fill="none" stroke-linecap="round"/>
<path d="M1089.5 227.6 Q1082.8 221.5 1077.4 224.0" stroke="#e6df8e" stroke-width="1.9" fill="none" stroke-linecap="round"/>
<path d="M1089.5 227.6 Q1096.1 221.5 1101.5 224.0" stroke="#e6df8e" stroke-width="1.9" fill="none" stroke-linecap="round"/>
<path d="M1089.5 227.6 Q1082.7 224.3 1077.2 229.2" stroke="#e6df8e" stroke-width="1.9" fill="none" stroke-linecap="round"/>
<path d="M1089.5 227.6 Q1096.2 224.3 1101.7 229.2" stroke="#e6df8e" stroke-width="1.9" fill="none" stroke-linecap="round"/>
<path d="M1089.5 227.6 Q1088.7 218.7 1088.0 215.7" stroke="#e6df8e" stroke-width="1.9" fill="none" stroke-linecap="round"/>
<path d="M1089.5 227.6 Q1090.3 218.7 1090.9 215.7" stroke="#e6df8e" stroke-width="1.9" fill="none" stroke-linecap="round"/>
<path d="M1089.5 227.6 Q1086.0 220.9 1083.1 219.6" stroke="#e6df8e" stroke-width="1.9" fill="none" stroke-linecap="round"/>
<path d="M1089.5 227.6 Q1092.9 220.9 1095.8 219.6" stroke="#e6df8e" stroke-width="1.9" fill="none" stroke-linecap="round"/>
<path d="M1089.1 240.5L1087.9 234.8L1086.9 230.4L1085.8 227.4L1084.3 225.6L1081.6 225.9L1080.6 228.0L1080.2 231.2L1080.0 235.6L1080.1 241.4L1080.4 248.6L1080.4 248.6L1081.0 241.4L1081.7 235.7L1082.4 231.5L1083.1 228.8L1083.6 227.9L1082.6 228.1L1083.1 228.9L1084.4 231.3L1085.9 235.3L1087.6 240.8Z" fill="#c0cb72"/>
<path d="M1088.5 248.2L1086.1 242.8L1083.9 238.6L1081.7 235.7L1078.9 234.2L1075.9 234.8L1074.0 237.1L1072.9 240.5L1072.2 245.1L1071.9 250.9L1072.1 258.0L1072.1 258.0L1073.1 251.0L1074.3 245.4L1075.5 241.3L1076.7 238.7L1077.7 237.8L1078.0 237.9L1079.1 238.6L1081.2 240.6L1083.8 244.1L1086.7 249.0Z" fill="#c0cb72"/>
<path d="M1092.5 244.2L1095.9 241.9L1098.6 240.7L1100.6 240.5L1101.8 240.7L1102.8 241.5L1103.8 243.3L1104.5 246.3L1104.9 250.4L1104.9 255.5L1104.7 261.6L1104.7 261.6L1105.9 255.6L1106.6 250.4L1106.7 246.1L1106.2 242.6L1105.1 239.8L1103.1 238.0L1100.4 237.4L1097.6 238.3L1094.7 240.2L1091.5 242.9Z" fill="#c0cb72"/>
<path d="M1089.3 271.9L1086.0 266.4L1083.0 262.2L1080.0 259.2L1076.7 257.8L1073.4 258.4L1071.0 260.7L1069.7 264.2L1069.1 268.8L1069.0 274.5L1069.5 281.6L1069.5 281.6L1070.4 274.6L1071.5 269.2L1072.7 265.2L1074.1 262.8L1075.1 262.0L1075.9 262.1L1077.5 262.9L1080.2 264.9L1083.6 268.3L1087.4 273.1Z" fill="#c0cb72"/>
<path d="M1092.9 276.9L1096.8 273.0L1100.3 270.2L1103.3 268.4L1105.5 267.3L1107.1 266.9L1108.3 267.1L1109.7 268.0L1111.2 270.1L1112.7 273.3L1114.1 277.6L1114.1 277.6L1114.1 273.0L1113.4 269.2L1112.2 266.2L1110.2 263.9L1107.3 262.9L1104.2 263.2L1100.9 264.6L1097.8 267.3L1094.6 270.9L1091.1 275.4Z" fill="#adba5c"/>
<path d="M1087.3 328.2 L1093.4 328.2 L1091.6 225.4 L1088.4 225.4 Z" fill="#adba5c"/>
<path d="M1089.8 233.4 Q1097.1 229.1 1100.0 239.2 Q1101.8 249.3 1098.5 256.6 Q1094.9 247.2 1091.3 253.0 Z" fill="#cbbd48"/>
<path d="M1090.5 260.9 Q1100.0 255.9 1102.9 263.8 Q1100.7 272.5 1092.0 274.7 Z" fill="#cbbd48"/>
<path d="M1089.3 297.9L1086.4 293.5L1083.7 289.9L1081.1 287.3L1078.3 285.9L1075.4 285.7L1072.9 287.1L1071.4 289.5L1070.6 292.7L1070.3 296.6L1070.6 301.5L1070.6 301.5L1071.7 296.8L1072.9 293.3L1074.2 291.0L1075.3 289.9L1076.0 289.7L1076.9 290.0L1078.6 290.9L1081.0 292.6L1084.0 295.4L1087.4 299.2Z" fill="#adba5c"/>
<path d="M1093.0 295.0L1097.6 290.0L1101.5 286.3L1104.8 284.1L1107.1 282.9L1108.5 282.7L1109.7 283.2L1111.3 285.0L1112.9 288.3L1114.3 293.3L1115.5 299.7L1115.5 299.7L1115.9 293.1L1115.5 287.7L1114.5 283.4L1112.6 280.2L1109.5 278.2L1105.8 278.2L1102.1 279.9L1098.6 283.2L1094.9 287.7L1090.9 293.5Z" fill="#adba5c"/>
<path d="M1092.9 312.1L1095.8 308.0L1098.5 304.9L1100.8 303.0L1102.4 301.8L1103.5 301.4L1104.4 301.6L1105.7 302.5L1107.1 304.7L1108.6 308.0L1110.1 312.3L1110.1 312.3L1109.8 307.7L1109.1 303.9L1107.9 301.0L1106.2 298.9L1103.6 297.9L1100.9 298.4L1098.3 300.0L1096.0 302.8L1093.6 306.5L1091.1 311.1Z" fill="#9aab4c"/>
<path d="M1089.1 314.8L1087.6 312.0L1086.1 309.6L1084.7 307.8L1083.0 306.7L1081.3 306.2L1079.5 306.6L1078.2 307.8L1077.4 309.5L1077.0 311.5L1076.8 314.1L1076.8 314.1L1077.9 311.8L1078.9 310.2L1079.9 309.3L1080.5 309.0L1081.0 309.0L1081.6 309.3L1082.6 310.1L1084.1 311.3L1085.8 313.2L1087.7 315.6Z" fill="#9aab4c"/>
<path d="M1092.7 325.4L1095.5 321.9L1098.0 319.1L1100.2 317.3L1101.8 316.0L1103.0 315.5L1103.9 315.5L1104.8 316.1L1106.0 317.5L1107.2 319.9L1108.3 323.2L1108.3 323.2L1108.1 319.7L1107.5 316.8L1106.5 314.7L1104.9 313.2L1102.7 312.7L1100.4 313.4L1098.1 314.9L1096.0 317.4L1093.7 320.6L1091.3 324.6Z" fill="#9aab4c"/>
<path d="M1089.0 325.8L1088.0 323.5L1087.1 321.6L1086.1 320.2L1084.7 319.3L1083.2 319.1L1081.8 319.7L1080.9 320.9L1080.2 322.4L1079.7 324.4L1079.3 326.8L1079.3 326.8L1080.4 324.6L1081.4 323.0L1082.3 322.0L1083.0 321.5L1083.4 321.4L1083.7 321.6L1084.3 322.1L1085.3 322.9L1086.5 324.4L1087.8 326.4Z" fill="#9aab4c"/>
<path d="M140.6 336.3 L140.6 335.7 Q142.1 331.2 146.6 329.7 Q149.3 325.7 154.1 325.4 Q157.5 322.2 162.1 323.0 Q166.2 320.7 170.5 322.5 Q174.9 321.1 178.8 323.8 Q183.1 323.2 186.0 326.5 Q190.0 326.4 192.0 330.0 Q196.5 331.3 198.1 335.7 L198.1 336.3 Z" fill="url(#sg)"/>
<path d="M239.1 336.3 L239.1 335.7 Q240.6 331.2 245.1 329.7 Q247.8 325.7 252.6 325.4 Q256.0 322.2 260.6 323.0 Q264.7 320.7 268.9 322.5 Q273.4 321.1 277.3 323.8 Q281.6 323.2 284.5 326.5 Q288.5 326.4 290.5 330.0 Q295.0 331.3 296.6 335.7 L296.6 336.3 Z" fill="url(#sg)"/>
<path d="M407.6 335.6 L407.6 335.0 Q409.2 330.5 413.7 329.0 Q416.4 325.0 421.2 324.7 Q424.6 321.5 429.2 322.3 Q433.3 320.0 437.5 321.8 Q442.0 320.4 445.9 323.1 Q450.2 322.5 453.1 325.8 Q457.1 325.7 459.1 329.3 Q463.6 330.6 465.1 335.0 L465.1 335.6 Z" fill="url(#sg)"/>
<path d="M556.8 335.6 L556.8 335.0 Q558.3 330.5 562.8 329.0 Q565.5 325.0 570.3 324.7 Q573.7 321.5 578.3 322.3 Q582.4 320.0 586.6 321.8 Q591.1 320.4 595.0 323.1 Q599.3 322.5 602.2 325.8 Q606.2 325.7 608.2 329.3 Q612.7 330.6 614.2 335.0 L614.2 335.6 Z" fill="url(#sg)"/>
<path d="M655.2 337.0 L655.2 336.4 Q656.8 331.9 661.3 330.4 Q664.0 326.4 668.8 326.1 Q672.2 322.9 676.8 323.7 Q680.9 321.4 685.1 323.2 Q689.6 321.8 693.5 324.5 Q697.8 323.9 700.7 327.2 Q704.7 327.1 706.7 330.7 Q711.2 332.0 712.8 336.4 L712.8 337.0 Z" fill="url(#sg)"/>
<path d="M764.2 338.0 L764.2 337.4 Q765.8 332.9 770.3 331.4 Q773.0 327.4 777.8 327.1 Q781.2 323.9 785.8 324.7 Q789.9 322.4 794.1 324.2 Q798.6 322.8 802.5 325.5 Q806.8 324.9 809.7 328.2 Q813.7 328.1 815.7 331.7 Q820.2 333.0 821.8 337.4 L821.8 338.0 Z" fill="url(#sg)"/>
<path d="M1060.7 339.8 L1060.7 339.2 Q1062.2 334.7 1066.7 333.2 Q1069.4 329.2 1074.2 328.9 Q1077.6 325.7 1082.2 326.5 Q1086.3 324.2 1090.6 326.0 Q1095.0 324.6 1098.9 327.3 Q1103.2 326.7 1106.1 330.0 Q1110.1 329.9 1112.1 333.5 Q1116.6 334.8 1118.2 339.2 L1118.2 339.8 Z" fill="url(#sg)"/>
<ellipse cx="267.6" cy="329.8" rx="7.8" ry="5" fill="url(#seed)" transform="rotate(-8 267.6 329.8)"/>
</svg>
</body></html>
